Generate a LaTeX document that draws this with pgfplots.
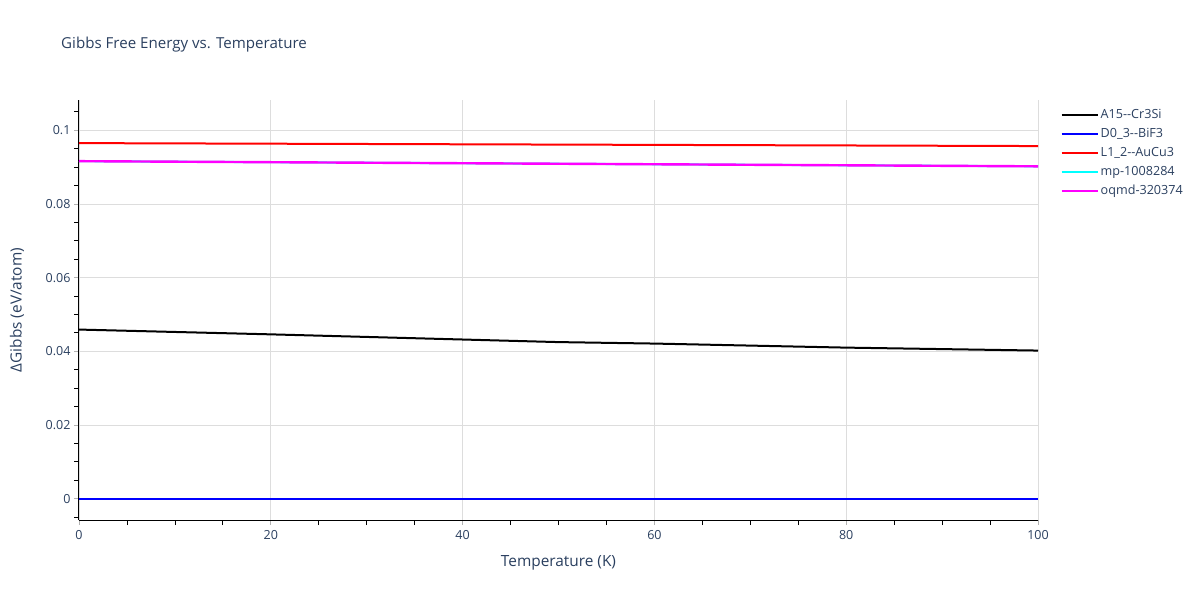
\documentclass[border=0pt]{standalone}
\usepackage{fontspec}
\setmainfont{Open Sans}
\usepackage{pgfplots}
\pgfplotsset{compat=1.18}
\definecolor{txt}{HTML}{2A3F5F}
\definecolor{gridc}{HTML}{DDDDDD}
\definecolor{cblack}{HTML}{000000}
\definecolor{cblue}{HTML}{0000FF}
\definecolor{cred}{HTML}{FF0000}
\definecolor{ccyan}{HTML}{00FFFF}
\definecolor{cmag}{HTML}{FF00FF}
\begin{document}
\begin{tikzpicture}[x=1pt,y=1pt]
\path[use as bounding box] (0,0) rectangle (1200,600);
\node[anchor=west, inner sep=0pt, text=txt, font=\fontsize{15.1}{18}\selectfont] at (61,555) {Gibbs Free Energy vs. Temperature};
\begin{axis}[
  at={(79pt,80pt)}, anchor=south west,
  width=959pt, height=420pt, scale only axis,
  xmin=0, xmax=100, ymin=-0.00578, ymax=0.1082,
  axis x line*=bottom, axis y line*=left,
  axis line style={black, line width=1pt},
  xtick={0,20,40,60,80,100},
  ytick={0,0.02,0.04,0.06,0.08,0.1},
  yticklabels={0,0.02,0.04,0.06,0.08,0.1},
  scaled y ticks=false,
  minor xtick={5,10,15,25,30,35,45,50,55,65,70,75,85,90,95},
  minor ytick={-0.005,0.005,0.01,0.015,0.025,0.03,0.035,0.045,0.05,0.055,0.065,0.07,0.075,0.085,0.09,0.095,0.105},
  tick align=outside,
  major tick length=5pt, minor tick length=5pt,
  major tick style={gray!60, line width=0.8pt},
  minor tick style={black, line width=0.8pt},
  grid=major,
  major grid style={gridc, line width=0.8pt},
  /pgf/number format/assume math mode=true,
  ticklabel style={font=\fontsize{12.5}{14}\selectfont, text=txt},
  xticklabel style={yshift=-2pt},
  xlabel={Temperature (K)},
  xlabel style={at={(axis description cs:0.5,-0.1024)}, anchor=center, font=\fontsize{15.4}{17}\selectfont, text=txt},
  ylabel={ΔGibbs (eV/atom)},
  ylabel style={at={(axis description cs:-0.0647,0.5)}, anchor=center, rotate=0, font=\fontsize{15.4}{17}\selectfont, text=txt},
  legend style={at={(axis description cs:1.021,0.988)}, anchor=north west, draw=none, fill=none,
    font=\fontsize{12.6}{14}\selectfont, text=txt, row sep=4.3pt, inner sep=2pt},
  legend cell align=left,
  legend image code/.code={\draw[#1] (2pt,0pt) -- (32pt,0pt); \path (0pt,0pt) -- (36pt,0pt);},
  every axis plot/.append style={line width=2pt},
]
\addplot[cblack] coordinates {(0,0.0459) (20,0.0446) (40,0.0432) (50,0.0425) (60,0.0421) (80,0.0410) (100,0.0402)};
\addlegendentry{A15{-}{-}Cr3Si}
\addplot[cblue] coordinates {(0,0) (100,0)};
\addlegendentry{D0\_3{-}{-}BiF3}
\addplot[cred] coordinates {(0,0.0965) (50,0.0961) (100,0.0957)};
\addlegendentry{L1\_2{-}{-}AuCu3}
\addplot[ccyan] coordinates {(0,0.0916) (50,0.0909) (100,0.0902)};
\addlegendentry{mp-1008284}
\addplot[cmag, line width=2.4pt] coordinates {(0,0.0916) (50,0.0909) (100,0.0902)};
\addlegendentry{oqmd-320374}
\end{axis}
\end{tikzpicture}
\end{document}
